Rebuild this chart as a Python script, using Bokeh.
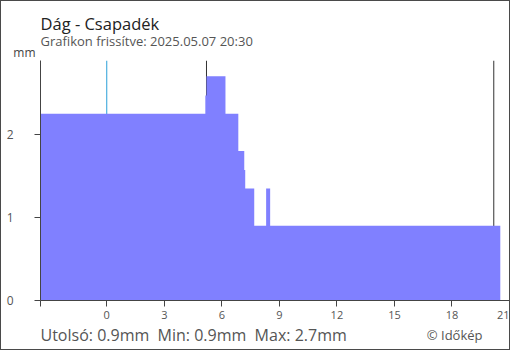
from bokeh.plotting import figure
from bokeh.models import Range1d, FixedTicker, Span
from bokeh.layouts import column
from bokeh.core.properties import value
from bokeh.embed import file_html
from bokeh.resources import INLINE

# data: step edges (hours relative to midnight) and values (mm)
edges = [-3.455, 5.14, 5.20, 6.19, 6.86, 7.17, 7.22, 7.69, 8.31, 8.52, 20.52]
values = [2.25, 2.47, 2.70, 2.25, 1.80, 1.57, 1.35, 0.90, 1.35, 0.90]
x_ticks = [-3.455, 0, 3, 6, 9, 12, 15, 18, 21]
y_ticks = [0, 1, 2]
sunrise = 5.2
sunset = 20.18
midnight = 0

title = "Dág - Csapadék"
subtitle = "Grafikon frissítve: 2025.05.07 20:30"
footer = "Utolsó: 0.9mm \u00a0Min: 0.9mm \u00a0Max: 2.7mm"
credit = "© Időkép"
unit = "mm"

FONT = "Open Sans"
W = 508
H_TOP = 59
H_MAIN = 265
H_FOOT = 348 - H_TOP - H_MAIN
SHIFT = 4  # baseline correction (px)


def blank(h):
    f = figure(width=W, height=h, output_backend="svg", toolbar_location=None,
               x_range=Range1d(0, W), y_range=Range1d(0, h),
               x_axis_type=None, y_axis_type=None, min_border=0, frame_align=False)
    f.outline_line_color = None
    f.grid.visible = False
    f.background_fill_color = "white"
    f.border_fill_color = "white"
    return f


def txt(f, text, x, y, size, color, align="left"):
    f.text(x=[x], y=[y + SHIFT], text=[text], text_font=value(FONT), text_font_size=size,
           text_color=color, text_align=align, text_baseline="alphabetic")


# header (y measured upward from the header's bottom edge)
top = blank(H_TOP)
txt(top, title, 39, H_TOP - 25.8, "16.5px", "#222222")
txt(top, subtitle, 39, H_TOP - 43.8, "13px", "#555555")
txt(top, unit, 34, H_TOP - 54.5, "12px", "#444444", "right")

# main chart
p = figure(width=W, height=H_MAIN, output_backend="svg", toolbar_location=None,
           x_range=Range1d(-3.455, 21.0), y_range=Range1d(0, 2.89), frame_align=False,
           min_border_left=39, min_border_right=0, min_border_top=0, min_border_bottom=H_MAIN - 240)
p.background_fill_color = "white"
p.border_fill_color = "white"
p.outline_line_color = None
p.grid.visible = False

for xv, col in [(sunrise, "#333333"), (sunset, "#333333"), (midnight, "#2a9fd8")]:
    p.add_layout(Span(location=xv, dimension="height", line_color=col, line_width=1, level="underlay"))

# step area built from the data arrays
px, py = [edges[0]], [0]
for i, v in enumerate(values):
    px += [edges[i], edges[i + 1]]
    py += [v, v]
px.append(edges[-1])
py.append(0)
p.patch(px, py, fill_color="#8080ff", line_color=None)

xa = p.xaxis[0]
xa.ticker = FixedTicker(ticks=x_ticks)
xa.major_label_overrides = {-3.455: ""}
xa.axis_line_color = "#444444"
xa.major_tick_line_color = "#444444"
xa.major_tick_out = 6
xa.major_tick_in = 0
xa.minor_tick_line_color = None
xa.major_label_text_font = FONT
xa.major_label_text_font_size = "11px"
xa.major_label_text_color = "#555555"
xa.major_label_standoff = 4

ya = p.yaxis[0]
ya.ticker = FixedTicker(ticks=y_ticks)
ya.axis_line_color = "#444444"
ya.major_tick_line_color = "#444444"
ya.major_tick_out = 6
ya.major_tick_in = 0
ya.minor_tick_line_color = None
ya.major_label_text_font = FONT
ya.major_label_text_font_size = "12px"
ya.major_label_text_color = "#555555"
ya.major_label_standoff = 21

# footer
bot = blank(H_FOOT)
txt(bot, footer, 39, H_FOOT - (337.7 - H_TOP - H_MAIN), "16px", "#555555")
txt(bot, credit, 481, H_FOOT - (337.2 - H_TOP - H_MAIN), "13px", "#555555", "right")

layout = column(top, p, bot, spacing=0, styles={"border": "1px solid #4a4a4a"})

open("out.html", "w").write(file_html(layout, INLINE))
